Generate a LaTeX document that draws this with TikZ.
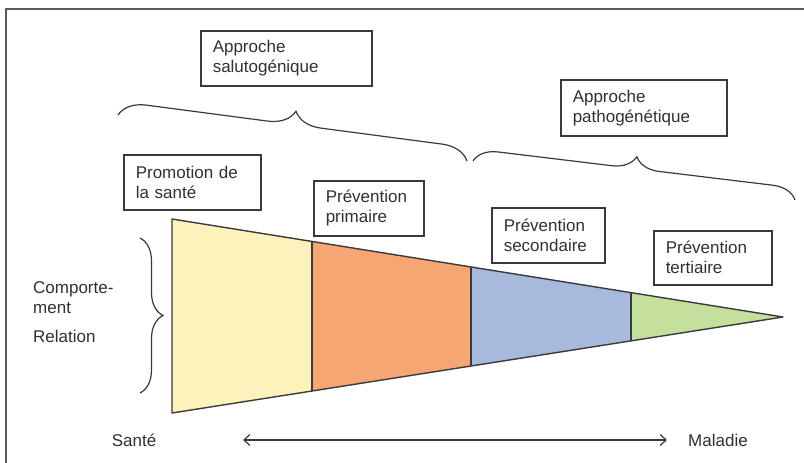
\documentclass[tikz,border=0pt]{standalone}
\usepackage{fontspec}
\setmainfont{Liberation Sans}
\usetikzlibrary{calc,decorations.pathreplacing,arrows.meta}
\definecolor{txt}{HTML}{303030}
\definecolor{linec}{HTML}{3A3A3A}
\definecolor{framec}{HTML}{5A5A5A}
\definecolor{cyel}{HTML}{FDF1BC}
\definecolor{cora}{HTML}{F5A673}
\definecolor{cblu}{HTML}{A8B9DE}
\definecolor{cgre}{HTML}{C5E09D}
\begin{document}
\begin{tikzpicture}[x=1pt,y=1pt,
  lbox/.style={draw=linec,line width=1.5pt,rectangle,align=left,anchor=north west,
    inner xsep=12pt,inner ysep=0pt,font=\fontsize{17}{20}\selectfont,text=txt},
  plain/.style={font=\fontsize{17}{20}\selectfont,text=txt,inner sep=0pt,align=left},
  brc/.style={draw=linec,line width=1.2pt,decorate},
  seg/.style={draw=linec,line width=1.4pt,line join=round}]
\useasboundingbox (0,0) rectangle (804,-463);
% frame
\draw[line width=1.5pt,draw=framec] (6,-463) -- (6,-9) -- (804,-9);
% boxes
\node[lbox,text width=147pt,minimum height=55pt,minimum width=171pt] (sal) at (200,-30) {Approche\\salutogénique};
\node[lbox,text width=142pt,minimum height=56pt,minimum width=166pt] (pat) at (560,-79) {Approche\\pathogénétique};
\node[lbox,text width=113pt,minimum height=55pt,minimum width=137pt] (pro) at (123,-154) {Promotion de\\la santé};
\node[lbox,text width=86pt,minimum height=55pt,minimum width=110pt] (pri) at (313,-180) {Prévention\\primaire};
\node[lbox,text width=89pt,minimum height=55pt,minimum width=113pt] (sec) at (491,-207) {Prévention\\secondaire};
\node[lbox,text width=94pt,minimum height=54pt,minimum width=118pt] (ter) at (653,-230) {Prévention\\tertiaire};
% triangle
\coordinate (A) at (172,-219);
\coordinate (T) at (783,-317);
\coordinate (B) at (172,-413);
\coordinate (p1t) at ($(A)!0.2291!(T)$);
\coordinate (p1b) at ($(B)!0.2291!(T)$);
\coordinate (p2t) at ($(A)!0.4894!(T)$);
\coordinate (p2b) at ($(B)!0.4894!(T)$);
\coordinate (p3t) at ($(A)!0.7512!(T)$);
\coordinate (p3b) at ($(B)!0.7512!(T)$);
\fill[cyel] (A) -- (p1t) -- (p1b) -- (B) -- cycle;
\fill[cora] (p1t) -- (p2t) -- (p2b) -- (p1b) -- cycle;
\fill[cblu] (p2t) -- (p3t) -- (p3b) -- (p2b) -- cycle;
\fill[cgre] (p3t) -- (T) -- (p3b) -- cycle;
\draw[seg] (p1t) -- (p1b);
\draw[seg] (p2t) -- (p2b);
\draw[seg] (p3t) -- (p3b);
\draw[seg] (A) -- (T) -- (B) -- cycle;
% braces
\coordinate (b1s) at (118,-115);
\coordinate (b1e) at (467,-161);
\coordinate (b2s) at (473,-161);
\coordinate (b2e) at (795,-200);
\coordinate (b3s) at (140,-238);
\coordinate (b3e) at (140,-393);
\draw[brc,decoration={brace,amplitude=27pt}] (b1s) -- (b1e);
\draw[brc,decoration={brace,amplitude=24pt}] (b2s) -- (b2e);
\draw[brc,decoration={brace,amplitude=23pt}] (b3s) -- (b3e);
% left labels
\node[plain,anchor=west] (comp) at (33,-298) {Comporte-\\ment};
\node[plain,anchor=west] (rel) at (33,-336) {Relation};
% bottom axis
\node[plain] (sante) at (134,-440) {Santé};
\node[plain] (mal) at (718,-440) {Maladie};
\coordinate (al) at (243,-440);
\coordinate (ar) at (667,-440);
\draw[draw=linec,line width=1.2pt,{Straight Barb[length=6pt,width=11pt]}-{Straight Barb[length=6pt,width=11pt]}] (al) -- (ar);
\end{tikzpicture}
\end{document}
